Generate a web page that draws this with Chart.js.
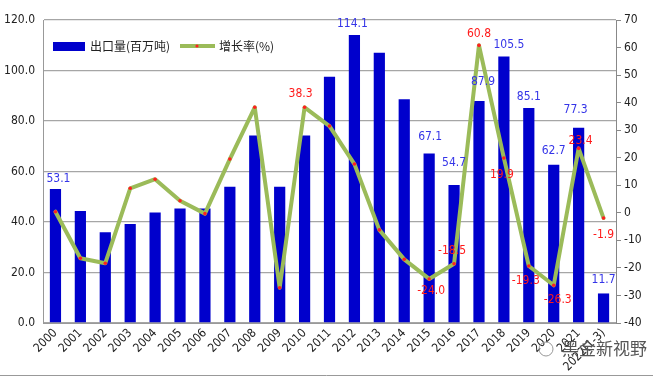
<!DOCTYPE html>
<html>
<head>
<meta charset="utf-8">
<script src="https://cdn.jsdelivr.net/npm/chart.js@4"></script>
<style>
  html, body { margin: 0; padding: 0; background: #fff; }
  #wrap { width: 653px; height: 377px; position: relative; }
</style>
</head>
<body>
<div id="wrap"><canvas id="c"></canvas></div>
<script>
const years = ['2000', '2001', '2002', '2003', '2004', '2005', '2006', '2007', '2008', '2009', '2010',
  '2011', '2012', '2013', '2014', '2015', '2016', '2017', '2018', '2019', '2020', '2021', '2022(1-3)']
const exportVol = [53.1, 44.4, 35.9, 39.2, 43.8, 45.3, 45.3, 54.0, 74.3, 54.0, 74.3,
  97.5, 114.1, 107.0, 88.6, 67.1, 54.7, 87.9, 105.5, 85.1, 62.7, 77.3, 11.7]
const growth = [0.4, -16.5, -18.3, 8.9, 12.2, 4.4, -0.3, 19.5, 38.3, -27.2, 38.3,
  31.5, 17.7, -6.2, -16.9, -24.0, -18.5, 60.8, 19.9, -19.3, -26.3, 23.4, -1.9]
const leftTicks = [0, 20, 40, 60, 80, 100, 120]
const rightTicks = [-40, -30, -20, -10, 0, 10, 20, 30, 40, 50, 60, 70]

// which points get a value label, and where it sits relative to the mark
const barLabelAt = { 0: [3, -10], 12: [-2, -11], 15: [1, -17], 16: [0, -22], 17: [4, -19],
  18: [5, -12], 19: [0, -11], 20: [0, -14], 21: [-3, -18], 22: [0, -14] }
const lineLabelAt = { 10: [-4, -13], 15: [2, 12], 16: [-2, -13], 17: [0, -11], 18: [-2, 17],
  19: [-3, 15], 20: [4, 15], 21: [2, -7], 22: [0, 17] }

const FONT = '"DejaVu Sans Condensed", "DejaVu Sans", sans-serif'

const decor = {
  id: 'decor',
  beforeDraw (chart) {
    const ctx = chart.ctx
    ctx.save()
    ctx.fillStyle = '#fff'
    ctx.fillRect(0, 0, chart.width, chart.height)
    ctx.restore()
  },
  afterDraw (chart) {
    const ctx = chart.ctx
    const a = chart.chartArea
    ctx.save()
    // legend inside plot
    ctx.fillStyle = '#0000cc'
    ctx.fillRect(a.left + 10, 42, 32, 9)
    ctx.font = '12px "Noto Sans CJK SC", sans-serif'
    ctx.fillStyle = '#222'
    ctx.textBaseline = 'middle'
    ctx.fillText('出口量(百万吨)', a.left + 47, 46)
    ctx.strokeStyle = '#9bbb59'
    ctx.lineWidth = 4
    ctx.beginPath()
    ctx.moveTo(a.left + 137, 46)
    ctx.lineTo(a.left + 172, 46)
    ctx.stroke()
    ctx.fillStyle = '#ff2020'
    ctx.beginPath()
    ctx.arc(a.left + 154, 46, 1.6, 0, Math.PI * 2)
    ctx.fill()
    ctx.fillStyle = '#222'
    ctx.fillText('增长率(%)', a.left + 176, 46)

    // value labels
    const barMeta = chart.getDatasetMeta(0)
    const lineMeta = chart.getDatasetMeta(1)
    ctx.font = '12px ' + FONT
    ctx.textAlign = 'center'
    ctx.fillStyle = '#3535e8'
    Object.keys(barLabelAt).forEach((k) => {
      const el = barMeta.data[k]
      const o = barLabelAt[k]
      ctx.fillText(exportVol[k].toFixed(1), el.x + o[0], el.y + o[1])
    })
    ctx.fillStyle = '#ff1a1a'
    Object.keys(lineLabelAt).forEach((k) => {
      const el = lineMeta.data[k]
      const o = lineLabelAt[k]
      ctx.fillText(growth[k].toFixed(1), el.x + o[0], el.y + o[1])
    })

    // watermark + frame line
    ctx.font = '17px "Noto Sans CJK SC", sans-serif'
    ctx.textAlign = 'left'
    ctx.fillStyle = '#555'
    ctx.fillText('黑金新视野', 562, 349)
    ctx.strokeStyle = '#999'
    ctx.lineWidth = 1
    ctx.beginPath()
    ctx.arc(546, 349, 7, 0, Math.PI * 2)
    ctx.stroke()
    ctx.beginPath()
    ctx.moveTo(0, 375.5)
    ctx.lineTo(chart.width, 375.5)
    ctx.stroke()
    ctx.restore()
  }
}

new Chart(document.getElementById('c'), {
  data: {
    labels: years,
    datasets: [
      {
        type: 'bar',
        label: '出口量(百万吨)',
        data: exportVol,
        yAxisID: 'y',
        backgroundColor: '#0000cc',
        barPercentage: 0.45,
        categoryPercentage: 1,
        order: 2
      },
      {
        type: 'line',
        label: '增长率(%)',
        data: growth,
        yAxisID: 'y1',
        borderColor: '#9bbb59',
        borderWidth: 4,
        borderJoinStyle: 'round',
        borderCapStyle: 'round',
        tension: 0,
        pointRadius: 1.8,
        pointBorderWidth: 0,
        pointBackgroundColor: '#ff2020',
        order: 1
      }
    ]
  },
  plugins: [decor],
  options: {
    responsive: true,
    maintainAspectRatio: false,
    animation: false,
    layout: { padding: { top: 20, left: 0, right: 0, bottom: 0 } },
    plugins: {
      legend: { display: false },
      tooltip: { enabled: false }
    },
    scales: {
      x: {
        offset: true,
        grid: { display: false, drawTicks: false },
        border: { color: '#999' },
        ticks: {
          autoSkip: false,
          maxRotation: 45,
          minRotation: 45,
          padding: 3,
          color: '#222',
          font: { family: FONT, size: 12 }
        },
        afterFit (s) { s.height = 54 }
      },
      y: {
        position: 'left',
        min: 0,
        max: 120,
        afterBuildTicks (s) { s.ticks = leftTicks.map((v) => ({ value: v })) },
        grid: { color: '#a6a6a6', lineWidth: 1.3, drawTicks: false },
        border: { color: '#999' },
        ticks: {
          padding: 8,
          color: '#222',
          font: { family: FONT, size: 12 },
          callback: (v) => v.toFixed(1)
        },
        afterFit (s) { s.width = 43 }
      },
      y1: {
        position: 'right',
        min: -40,
        max: 70,
        afterBuildTicks (s) { s.ticks = rightTicks.map((v) => ({ value: v })) },
        grid: { drawOnChartArea: false, color: '#888', tickLength: 5 },
        border: { color: '#888' },
        ticks: {
          padding: 3,
          color: '#222',
          font: { family: FONT, size: 12 }
        },
        afterFit (s) { s.width = 37 }
      }
    }
  }
})
</script>
</body>
</html>
